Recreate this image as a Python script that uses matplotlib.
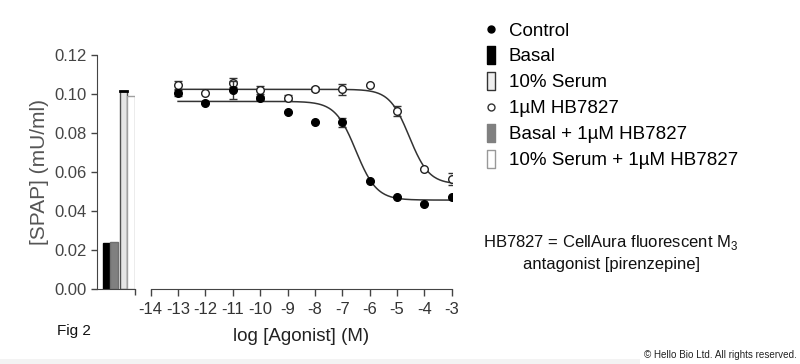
import numpy as np
import matplotlib.pyplot as plt
from matplotlib.lines import Line2D
from matplotlib.patches import Rectangle

plt.rcParams['font.family'] = ['Liberation Sans', 'DejaVu Sans']
plt.rcParams['mathtext.fontset'] = 'custom'
plt.rcParams['mathtext.rm'] = 'Liberation Sans'
plt.rcParams['axes.unicode_minus'] = False

# bar values (left panel)
bar_labels = ["Basal", "Basal + 1\u00b5M HB7827", "10% Serum", "10% Serum + 1\u00b5M HB7827"]
bar_values = [0.0235, 0.024, 0.1015, 0.099]

# concentration-response data
log_conc = [-13, -12, -11, -10, -9, -8, -7, -6, -5, -4, -3]
control = [0.1007, 0.0952, 0.1020, 0.0981, 0.0909, 0.0855, 0.0855, 0.0554, 0.0474, 0.0436, 0.0474]
control_err = [0.0015, 0, 0.0048, 0.0010, 0, 0, 0.0024, 0, 0, 0, 0]
hb = [0.1046, 0.1007, 0.1058, 0.1020, 0.0981, 0.1024, 0.1024, 0.1045, 0.0913, 0.0617, 0.0563]
hb_err = [0.0020, 0, 0.0024, 0.0019, 0.0013, 0.0010, 0.0028, 0, 0.0026, 0, 0.0032]

# fitted curve parameters (top, bottom, logEC50, hill)
control_fit = (0.0962, 0.0456, -6.5, 1.15)
hb_fit = (0.1024, 0.0538, -4.55, 1.2)


def fourpl(x, top, bottom, c, h):
    return bottom + (top - bottom) / (1 + 10 ** (h * (x - c)))


W, H = 800, 364
fig = plt.figure(figsize=(8, 3.64), dpi=100)

# bottom faint strip
fig.patches.append(Rectangle((0, 0), 640 / W, 5 / H, transform=fig.transFigure,
                             facecolor='#f3f3f3', edgecolor='none'))

y0, y1 = 289, 55
ax1 = fig.add_axes([97 / W, 1 - y0 / H, (135 - 97) / W, (y0 - y1) / H])
pos = [0, 1, 2.25, 3.25]
faces = ['black', '#808080', '#e6e6e6', 'white']
edges = ['black', '#707070', '#505050', '#a0a0a0']
ax1.bar(pos, bar_values, width=1, color=faces, edgecolor=edges, linewidth=1)
ax1.plot([pos[2] - 0.5, pos[2] + 0.5], [bar_values[2], bar_values[2]], color='black', lw=2)
ax1.set_xlim(-1.3, 3.77)
ax1.set_ylim(0, 0.12)
ax1.set_yticks(np.arange(0, 0.121, 0.02))
ax1.set_yticklabels(['%.2f' % v for v in np.arange(0, 0.121, 0.02)])
ax1.set_xticks([3.77])
ax1.set_xticklabels([''])
for s in ['top', 'right']:
    ax1.spines[s].set_visible(False)
for s in ['left', 'bottom']:
    ax1.spines[s].set_color('#444444')
ax1.tick_params(colors='#444444', labelcolor='#444444', labelsize=12, length=4, width=1)
ax1.set_ylabel('[SPAP] (mU/ml)', fontsize=15, color='#555555', labelpad=4)

ax2 = fig.add_axes([150.7 / W, 1 - y0 / H, (451.7 - 150.7) / W, (y0 - y1) / H])
ax2.set_xlim(-14, -3)
ax2.set_ylim(0, 0.12)
xs = np.linspace(-13, -3, 300)
ax2.plot(xs, fourpl(xs, *control_fit), color='#333333', lw=1.1)
ax2.plot(xs, fourpl(xs, *hb_fit), color='#333333', lw=1.1)
ax2.errorbar(log_conc, control, yerr=control_err, fmt='o', color='black', ms=5.5,
             ecolor='#333333', elinewidth=1, capsize=3, zorder=4)
ax2.errorbar(log_conc, hb, yerr=hb_err, fmt='o', mfc='white', mec='#222222', ms=5.5,
             mew=1, ecolor='#333333', elinewidth=1, capsize=3, zorder=3)
ax2.set_xticks(range(-14, -2))
ax2.set_yticks([])
for s in ['top', 'right', 'left']:
    ax2.spines[s].set_visible(False)
ax2.spines['bottom'].set_color('#444444')
ax2.tick_params(colors='#444444', labelcolor='#333333', labelsize=12, length=5, width=1, pad=4)
ax2.set_xlabel('log [Agonist] (M)', fontsize=13.5, color='#222222', labelpad=8)

rect = [(-0.45, -1), (0.45, -1), (0.45, 1), (-0.45, 1), (-0.45, -1)]
handles = [
    Line2D([], [], ls='none', marker='o', color='black', ms=5),
    Line2D([], [], ls='none', marker=rect, mfc='black', mec='black', ms=13),
    Line2D([], [], ls='none', marker=rect, mfc='#eeeeee', mec='#333333', ms=13, mew=1),
    Line2D([], [], ls='none', marker='o', mfc='white', mec='#333333', ms=5),
    Line2D([], [], ls='none', marker=rect, mfc='#808080', mec='#808080', ms=13),
    Line2D([], [], ls='none', marker=rect, mfc='white', mec='#999999', ms=13, mew=1),
]
labels = ['Control', 'Basal', '10% Serum', '1\u00b5M HB7827', 'Basal + 1\u00b5M HB7827',
          '10% Serum + 1\u00b5M HB7827']
fig.legend(handles, labels, loc='upper left', bbox_to_anchor=(472 / W, 1 - 13 / H),
           frameon=False, fontsize=13.5, handlelength=1, handletextpad=0.45,
           labelspacing=0.47, borderpad=0)

fig.text(483 / W, 1 - 243 / H, 'HB7827 = CellAura fluorescent M$_3$', fontsize=12,
         va='center', ha='left', color='#111111')
fig.text(523 / W, 1 - 264 / H, 'antagonist [pirenzepine]', fontsize=12,
         va='center', ha='left', color='#111111')
fig.text(57 / W, 1 - 331 / H, 'Fig 2', fontsize=11, va='center', ha='left', color='#111111')
fig.text(797 / W, 1 - 355 / H, '\u00a9 Hello Bio Ltd. All rights reserved.', fontsize=7.1,
         va='center', ha='right', color='#222222')

fig.savefig('out.png', dpi=100)
